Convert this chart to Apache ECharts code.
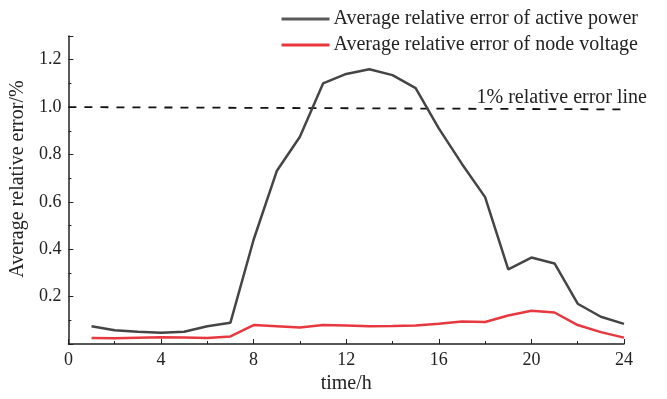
<!DOCTYPE html>
<html>
<head>
<meta charset="utf-8">
<script src="https://cdn.jsdelivr.net/npm/echarts@6/dist/echarts.min.js"></script>
<style>
  html, body { margin: 0; padding: 0; background: #fff; }
  #chart { width: 667px; height: 399px; }
</style>
</head>
<body>
<div id="chart"></div>
<script>
// Hours of the day
const hours = [1,2,3,4,5,6,7,8,9,10,11,12,13,14,15,16,17,18,19,20,21,22,23,24];

// Average relative error (%) per hour
const activePowerError = [0.075,0.058,0.052,0.047,0.052,0.075,0.09,0.44,0.73,0.875,1.10,1.14,1.16,1.135,1.08,0.91,0.76,0.62,0.315,0.365,0.34,0.17,0.115,0.085];
const nodeVoltageError = [0.025,0.024,0.026,0.028,0.027,0.025,0.032,0.08,0.075,0.07,0.08,0.078,0.075,0.076,0.078,0.085,0.095,0.093,0.12,0.14,0.133,0.08,0.05,0.027];

// 1% reference line endpoints
const refLineX = [0, 24.5];
const refLineY = [1.0, 0.99];

const yTickLabels = ['0.2','0.4','0.6','0.8','1.0','1.2'];
const xTickLabels = ['0','4','8','12','16','20','24'];

const seriesNames = ['Average relative error of active power', 'Average relative error of node voltage'];
const refLabel = '1% relative error line';

const FONT = '"Liberation Serif", "Times New Roman", serif';
const INK = '#222';
const chart = echarts.init(document.getElementById('chart'));

chart.setOption({
  animation: false,
  backgroundColor: '#fff',
  grid: { left: 66, right: 43, top: 36, bottom: 51 },
  legend: {
    orient: 'vertical',
    right: 24,
    top: 4,
    itemWidth: 48,
    itemHeight: 3,
    itemGap: 6,
    icon: 'rect',
    textStyle: { fontFamily: FONT, fontSize: 20, color: INK, padding: [0, 0, 0, -1] },
    data: seriesNames
  },
  xAxis: {
    type: 'value',
    min: 0, max: 24, interval: 4,
    name: 'time/h',
    nameLocation: 'middle',
    nameGap: 30,
    nameTextStyle: { fontFamily: FONT, fontSize: 20, color: INK },
    axisLine: { lineStyle: { color: INK, width: 1.5 } },
    axisTick: { inside: true, length: 5, lineStyle: { color: INK } },
    minorTick: { show: true, splitNumber: 2, length: 3, lineStyle: { color: INK } },
    splitLine: { show: false },
    axisLabel: {
      fontFamily: FONT, fontSize: 18, color: INK, margin: 7,
      formatter: v => xTickLabels.includes(String(v)) ? String(v) : ''
    }
  },
  yAxis: {
    type: 'value',
    min: 0, max: 1.3, interval: 0.2,
    name: 'Average relative error/%',
    nameLocation: 'middle',
    nameGap: 29,
    nameTextStyle: { fontFamily: FONT, fontSize: 20, color: INK, padding: [0, 0, 0, 22] },
    axisLine: { show: true, lineStyle: { color: INK, width: 1.5 } },
    axisTick: { show: true, inside: true, length: 5, lineStyle: { color: INK } },
    minorTick: { show: true, splitNumber: 2, length: 3, lineStyle: { color: INK } },
    splitLine: { show: false },
    axisLabel: {
      fontFamily: FONT, fontSize: 18, color: INK, margin: 7,
      formatter: v => {
        const s = v.toFixed(1);
        return yTickLabels.includes(s) ? s : '';
      }
    }
  },
  series: [
    {
      name: seriesNames[0],
      type: 'line',
      symbol: 'none',
      data: hours.map((h, i) => [h, activePowerError[i]]),
      lineStyle: { color: '#454545', width: 2.5 },
      itemStyle: { color: '#5a5a5a' },
      z: 3
    },
    {
      name: seriesNames[1],
      type: 'line',
      symbol: 'none',
      data: hours.map((h, i) => [h, nodeVoltageError[i]]),
      lineStyle: { color: '#e8383f', width: 2.5 },
      itemStyle: { color: '#e8383f' },
      z: 3
    },
    {
      name: refLabel,
      type: 'line',
      symbol: 'none',
      clip: false,
      data: refLineX.map((x, i) => [x, refLineY[i]]),
      lineStyle: { color: '#111', width: 1.8, type: [8, 8] },
      endLabel: {
        show: true,
        formatter: refLabel,
        align: 'right',
        verticalAlign: 'bottom',
        offset: [13, -2],
        fontFamily: FONT, fontSize: 20, color: INK
      },
      z: 2
    }
  ]
});
</script>
</body>
</html>
